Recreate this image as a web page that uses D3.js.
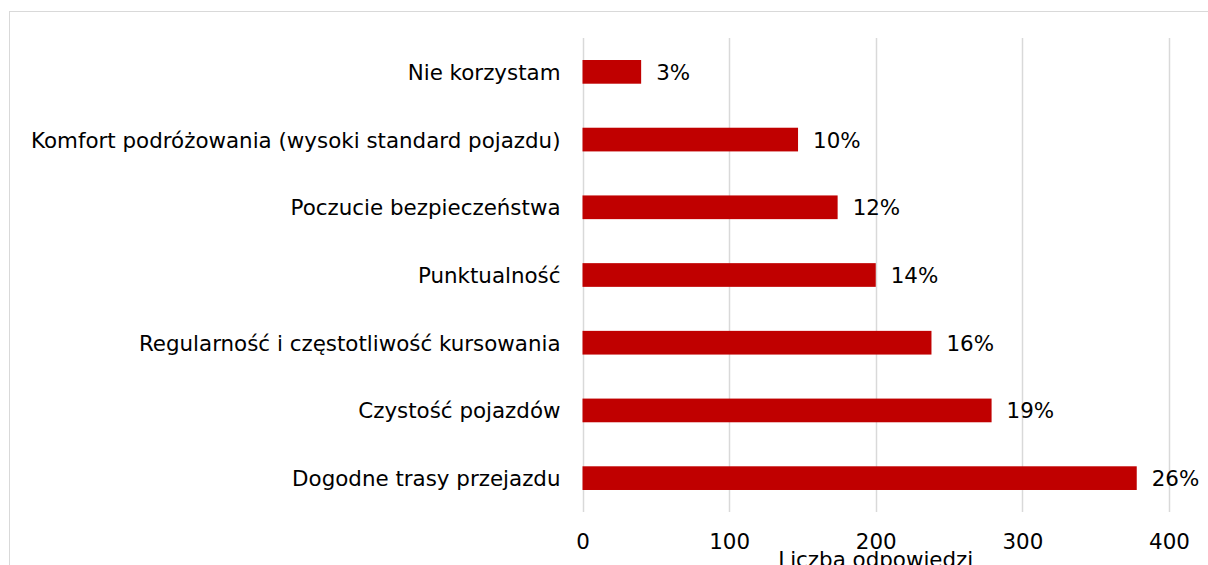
<!DOCTYPE html>
<html>
<head>
<meta charset="utf-8">
<script src="https://cdn.jsdelivr.net/npm/d3@7"></script>
<style>
  html, body { margin: 0; padding: 0; background: #fff; overflow: hidden; }
  svg { display: block; font-family: "DejaVu Sans", Verdana, sans-serif; }
</style>
</head>
<body>
<svg id="chart" width="1208" height="565"></svg>
<script>
const categories = [
  "Nie korzystam",
  "Komfort podróżowania (wysoki standard pojazdu)",
  "Poczucie bezpieczeństwa",
  "Punktualność",
  "Regularność i częstotliwość kursowania",
  "Czystość pojazdów",
  "Dogodne trasy przejazdu"
];
const values = [40, 147, 174, 200, 238, 279, 378];
const percentLabels = ["3%", "10%", "12%", "14%", "16%", "19%", "26%"];
const xTicks = [0, 100, 200, 300, 400];
const xAxisTitle = "Liczba odpowiedzi";

const svg = d3.select("#chart");

// outer frame
svg.append("rect")
  .attr("x", 9.5).attr("y", 11.5)
  .attr("width", 1220).attr("height", 600)
  .attr("fill", "#fff")
  .attr("stroke", "#d9d9d9").attr("stroke-width", 1);

const x = d3.scaleLinear().domain([0, 400]).range([582.5, 1169]);
const y = d3.scaleBand().domain(categories).range([38, 512]).paddingInner(0.65).paddingOuter(0.325);

// gridlines
svg.append("g").selectAll("line").data(xTicks).join("line")
  .attr("x1", d => Math.round(x(d)) + 0.5).attr("x2", d => Math.round(x(d)) + 0.5)
  .attr("y1", 38).attr("y2", 512)
  .attr("stroke", "#d9d9d9").attr("stroke-width", 1.5);

// bars
svg.append("g").selectAll("rect").data(values).join("rect")
  .attr("x", x(0))
  .attr("y", (d, i) => y(categories[i]))
  .attr("width", d => x(d) - x(0))
  .attr("height", y.bandwidth())
  .attr("fill", "#c00000");

const fs = 21.4;
// category labels
svg.append("g").selectAll("text").data(categories).join("text")
  .attr("x", x(0) - 22)
  .attr("y", d => y(d) + y.bandwidth() / 2 + 8)
  .attr("text-anchor", "end")
  .attr("font-size", fs)
  .attr("fill", "#000")
  .text(d => d);

// value labels
svg.append("g").selectAll("text").data(values).join("text")
  .attr("x", d => x(d) + 15)
  .attr("y", (d, i) => y(categories[i]) + y.bandwidth() / 2 + 8)
  .attr("font-size", fs)
  .attr("fill", "#000")
  .text((d, i) => percentLabels[i]);

// x axis tick labels
const axis = d3.axisBottom(x).tickValues(xTicks).tickSize(0).tickPadding(0);
const gAxis = svg.append("g").attr("transform", "translate(0,533)").call(axis);
gAxis.select(".domain").remove();
gAxis.selectAll("text")
  .attr("font-size", fs)
  .attr("font-family", "DejaVu Sans, Verdana, sans-serif")
  .attr("fill", "#000")
  .attr("dy", "0.77em");

// axis title
svg.append("text")
  .attr("x", x(200))
  .attr("y", 567)
  .attr("text-anchor", "middle")
  .attr("font-size", fs)
  .attr("fill", "#000")
  .text(xAxisTitle);
</script>
</body>
</html>
